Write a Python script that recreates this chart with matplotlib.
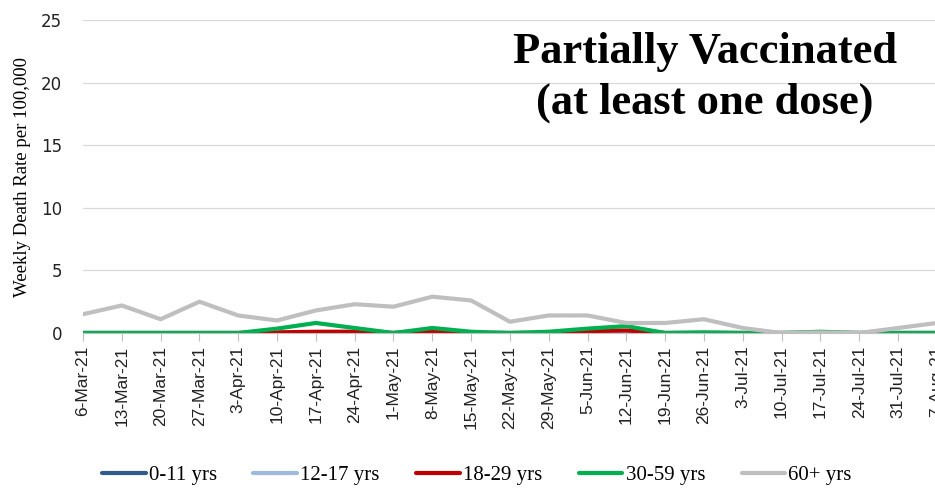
import matplotlib.pyplot as plt

dates = ['6-Mar-21', '13-Mar-21', '20-Mar-21', '27-Mar-21', '3-Apr-21', '10-Apr-21',
         '17-Apr-21', '24-Apr-21', '1-May-21', '8-May-21', '15-May-21', '22-May-21',
         '29-May-21', '5-Jun-21', '12-Jun-21', '19-Jun-21', '26-Jun-21', '3-Jul-21',
         '10-Jul-21', '17-Jul-21', '24-Jul-21', '31-Jul-21', '7-Aug-21']

age_0_11 = [0] * 23
age_12_17 = [0] * 23
age_18_29 = [0, 0, 0, 0, 0, 0.05, 0.1, 0.1, 0, 0.15, 0, 0,
             0, 0.15, 0.2, 0, 0, 0, 0, 0, 0, 0, 0]
age_30_59 = [0, 0, 0, 0, 0, 0.35, 0.8, 0.4, 0, 0.4, 0.1, 0,
             0.1, 0.35, 0.55, 0, 0.05, 0, 0, 0.1, 0, 0, 0]
age_60p = [1.5, 2.2, 1.1, 2.5, 1.4, 1.0, 1.8, 2.3, 2.1, 2.9, 2.6, 0.9,
           1.4, 1.4, 0.8, 0.8, 1.1, 0.4, 0, 0.05, 0, 0.4, 0.8]

series = [('0-11 yrs', age_0_11, '#2F5B8E'),
          ('12-17 yrs', age_12_17, '#9DB9DE'),
          ('18-29 yrs', age_18_29, '#C00000'),
          ('30-59 yrs', age_30_59, '#00B050'),
          ('60+ yrs', age_60p, '#BFBFBF')]

fig = plt.figure(figsize=(9.35, 4.9), dpi=100)
ax = fig.add_axes([83 / 935, 1 - 333 / 490, 1 - 83 / 935 + 0.004, (333 - 20) / 490])

x = range(len(dates))
for name, vals, col in series:
    ax.plot(x, vals, color=col, lw=3, label=name, solid_capstyle='round')

ax.set_ylim(0, 25)
ax.set_xlim(0, len(dates) - 1 + 0.05)
ax.set_yticks([0, 5, 10, 15, 20, 25])
ax.yaxis.grid(True, color='#D9D9D9', lw=0.9)
ax.set_axisbelow(True)
for s in ['top', 'right', 'left']:
    ax.spines[s].set_visible(False)
ax.spines['bottom'].set_color('#BFBFBF')
ax.tick_params(axis='y', length=0, pad=15, labelsize=12, labelcolor='#222222')
ax.tick_params(axis='x', length=6, color='#BFBFBF', pad=3)
ax.set_xticks(list(x))
ax.set_xticklabels(dates, rotation=90, family='Liberation Sans', fontsize=12.5, color='#222222')
ax.set_ylabel('Weekly Death Rate per 100,000', family='Liberation Serif', fontsize=13.5, labelpad=7)

fig.text(0.754, 0.842, 'Partially Vaccinated\n(at least one dose)', ha='center', va='center',
         fontsize=32, fontweight='bold', family='Liberation Serif', linespacing=1.33)

fig.legend(loc='center', bbox_to_anchor=(0.51, 0.03), ncol=5, frameon=False,
           prop={'family': 'Liberation Serif', 'size': 15}, handlelength=2.1,
           columnspacing=1.75, handletextpad=0.15)

fig.savefig('out.png', dpi=100)
